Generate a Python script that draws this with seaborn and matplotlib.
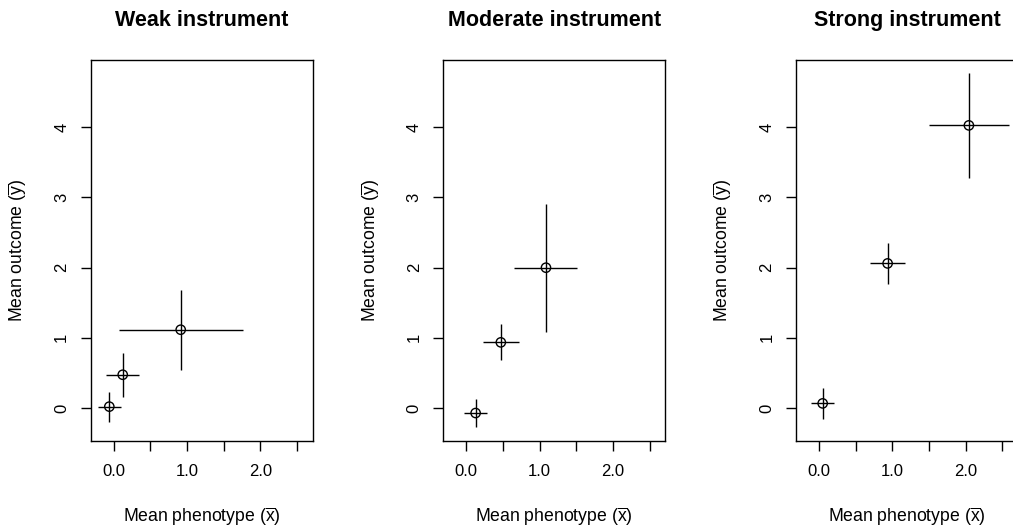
import numpy as np
import pandas as pd
import matplotlib
matplotlib.use("Agg")
import matplotlib.pyplot as plt
import seaborn as sns

# panel titles
panels = ["Weak instrument", "Moderate instrument", "Strong instrument"]

# mean phenotype (x) with lower / upper bounds
x_mean = [[-0.06, 0.123, 0.914], [0.127, 0.471, 1.087], [0.05, 0.936, 2.045]]
x_low = [[-0.214, -0.105, 0.072], [-0.032, 0.226, 0.652], [-0.114, 0.691, 1.50]]
x_high = [[0.095, 0.349, 1.76], [0.285, 0.72, 1.517], [0.209, 1.177, 2.59]]

# mean outcome (y) with lower / upper bounds
y_mean = [[0.02, 0.474, 1.115], [-0.071, 0.935, 1.998], [0.066, 2.059, 4.024]]
y_low = [[-0.204, 0.161, 0.54], [-0.275, 0.683, 1.082], [-0.152, 1.765, 3.279]]
y_high = [[0.232, 0.779, 1.68], [0.128, 1.19, 2.904], [0.28, 2.354, 4.773]]

x_ticks = [0.0, 0.5, 1.0, 1.5, 2.0, 2.5]
x_tick_labels = ["0.0", "", "1.0", "", "2.0", ""]
y_ticks = [0, 1, 2, 3, 4]

rows = []
for i, p in enumerate(panels):
    for j in range(len(x_mean[i])):
        rows.append({"panel": p, "x": x_mean[i][j], "y": y_mean[i][j],
                     "xlo": x_low[i][j], "xhi": x_high[i][j],
                     "ylo": y_low[i][j], "yhi": y_high[i][j]})
df = pd.DataFrame(rows)

sns.set_style("ticks")
plt.rcParams["font.family"] = ["Liberation Sans", "DejaVu Sans"]
plt.rcParams["mathtext.fontset"] = "custom"
plt.rcParams["mathtext.rm"] = "Liberation Sans"
plt.rcParams["mathtext.it"] = "Liberation Sans"
plt.rcParams["text.color"] = "black"
plt.rcParams["axes.labelcolor"] = "black"

fig = plt.figure(figsize=(10.13, 5.27), dpi=100)
lefts = [90.7, 443.3, 796.0]
W, H = 1013.0, 527.0

for i, p in enumerate(panels):
    ax = fig.add_axes([lefts[i] / W, 1 - 440.7 / H, 222 / W, 380.7 / H])
    d = df[df["panel"] == p]
    ax.errorbar(d["x"], d["y"],
                xerr=[d["x"] - d["xlo"], d["xhi"] - d["x"]],
                yerr=[d["y"] - d["ylo"], d["yhi"] - d["y"]],
                fmt="none", ecolor="black", elinewidth=1.0, capsize=0)
    sns.scatterplot(data=d, x="x", y="y", ax=ax, marker="o", s=45,
                    facecolor="none", edgecolor="black", linewidth=1.0, zorder=3)
    ax.set_xlim(-0.314, 2.715)
    ax.set_ylim(-0.465, 4.955)
    ax.set_xticks(x_ticks)
    ax.set_xticklabels(x_tick_labels)
    ax.set_yticks(y_ticks)
    ax.set_yticklabels([str(v) for v in y_ticks], rotation=90, va="center")
    ax.tick_params(axis="both", length=7.5, width=1.0, color="black",
                   labelsize=12, labelcolor="black")
    ax.tick_params(axis="x", pad=9)
    ax.tick_params(axis="y", pad=8)
    for s in ax.spines.values():
        s.set_color("black")
        s.set_linewidth(1.0)
    ax.set_xlabel(r"Mean phenotype ($\overline{\mathrm{x}}$)", fontsize=12.7)
    ax.set_ylabel(r"Mean outcome ($\overline{\mathrm{y}}$)", fontsize=12.7)
    ax.xaxis.set_label_coords(0.5, -0.2004)
    ax.xaxis.label.set_va("center")
    ax.yaxis.set_label_coords(-0.3275, 0.5)
    ax.yaxis.label.set_va("center")
    ax.text(0.5, 1.105, p, transform=ax.transAxes, ha="center", va="center",
            fontsize=15.5, fontweight="bold")

fig.savefig("out.png", dpi=100)
plt.close(fig)
